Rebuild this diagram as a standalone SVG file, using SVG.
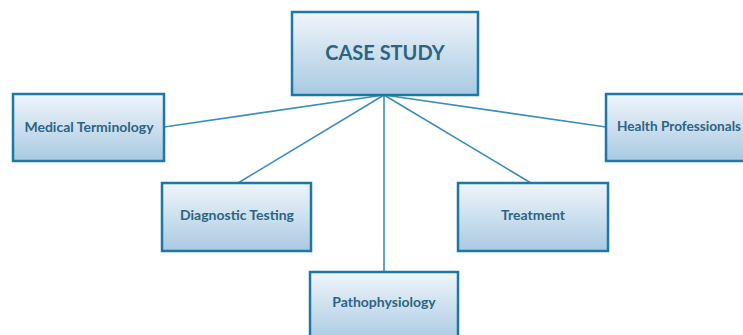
<svg xmlns="http://www.w3.org/2000/svg" width="743" height="335" viewBox="0 0 743 335">
<defs>
<linearGradient id="g" x1="0" y1="0" x2="0" y2="1">
<stop offset="0" stop-color="#f0f5fb"/>
<stop offset="1" stop-color="#a8cae2"/>
</linearGradient>
<style>
.box{fill:url(#g);stroke:#1d78a5;stroke-width:2.5}
.t{font-family:"Lato","Open Sans",sans-serif;font-weight:bold;fill:#2d6482;text-anchor:middle;font-size:14px}
.big{font-size:20px}
.c{stroke:#3b8fb7;stroke-width:1.6;fill:none}
</style>
</defs>
<rect width="743" height="335" fill="#ffffff"/>
<g id="connectors">
<line class="c" x1="384" y1="95" x2="164" y2="127"/>
<line class="c" x1="384" y1="95" x2="606" y2="127"/>
<line class="c" x1="384" y1="95" x2="238" y2="183"/>
<line class="c" x1="384" y1="95" x2="531" y2="183"/>
<line class="c" x1="384" y1="95" x2="384" y2="272"/>
</g>
<g id="case-study">
<rect class="box" x="292" y="12" width="186" height="83"/>
<text class="t big" x="385" y="60">CASE STUDY</text>
</g>
<g id="medical-terminology">
<rect class="box" x="13" y="94" width="151" height="67"/>
<text class="t" x="89" y="132">Medical Terminology</text>
</g>
<g id="health-professionals">
<rect class="box" x="606" y="94" width="150" height="67"/>
<text class="t" x="617" y="131" style="text-anchor:start" textLength="124" lengthAdjust="spacingAndGlyphs">Health Professionals</text>
</g>
<g id="diagnostic-testing">
<rect class="box" x="162" y="183" width="149" height="68"/>
<text class="t" x="237" y="220">Diagnostic Testing</text>
</g>
<g id="treatment">
<rect class="box" x="458" y="183" width="150" height="68"/>
<text class="t" x="533" y="220">Treatment</text>
</g>
<g id="pathophysiology">
<rect class="box" x="310" y="272" width="148" height="70"/>
<text class="t" x="384" y="307">Pathophysiology</text>
</g>
</svg>
